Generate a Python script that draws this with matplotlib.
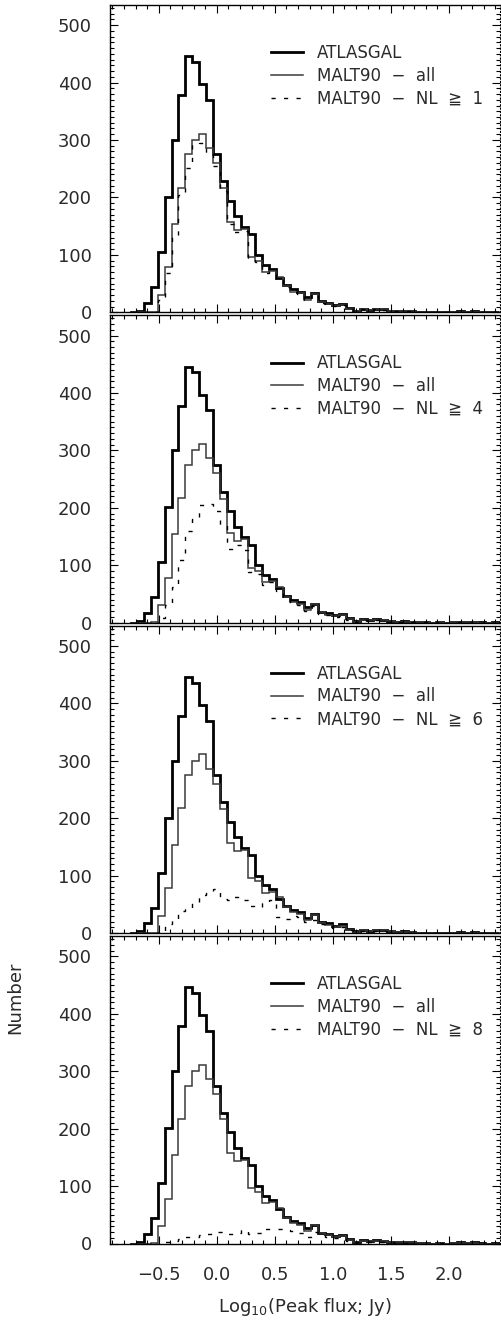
import numpy as np
import matplotlib
matplotlib.use("Agg")
import matplotlib.pyplot as plt
from matplotlib.ticker import MultipleLocator

plt.rcParams['font.family'] = ['DejaVu Sans', 'Noto Sans CJK JP']

# ---- data: histogram of Log10(peak flux) with bin width 0.06 starting at -0.75
BIN_START = -0.75
BIN_WIDTH = 0.06

atlasgal = [0, 3, 17, 44, 105, 201, 300, 378, 446, 436, 397, 370, 275, 228, 194, 167,
            149, 136, 100, 83, 76, 60, 47, 40, 36, 27, 33, 19, 17, 13, 15, 8, 3, 6, 4, 6,
            5, 3, 2, 3, 2, 1, 1, 0, 1, 0, 1, 2, 1, 2, 1, 0, 1]
malt90_all = [0, 0, 0, 1, 30, 78, 154, 217, 275, 300, 311, 286, 260, 216, 157, 143,
              145, 96, 90, 70, 72, 62, 45, 36, 33, 22, 32, 18, 14, 11, 13, 6, 2, 5, 4, 5,
              5, 3, 2, 2, 2, 1, 1, 0, 1, 0, 1, 1, 1, 1, 0, 0, 0]
malt90_nl1 = [0, 0, 0, 1, 22, 68, 135, 205, 252, 292, 295, 275, 255, 212, 154, 140,
              142, 94, 88, 68, 70, 60, 44, 35, 32, 21, 31, 17, 14, 11, 12, 6, 2, 5, 4, 5,
              4, 3, 2, 2, 2, 1, 1, 0, 1, 0, 1, 1, 1, 1, 0, 0, 0]
malt90_nl4 = [0, 0, 0, 0, 8, 30, 62, 110, 160, 180, 205, 206, 195, 170, 128, 135,
              127, 88, 85, 66, 70, 56, 42, 33, 30, 20, 29, 16, 13, 10, 11, 5, 2, 4, 3, 4,
              4, 2, 2, 2, 1, 1, 1, 0, 1, 0, 1, 1, 0, 1, 0, 0, 0]
malt90_nl6 = [0, 0, 0, 0, 3, 15, 25, 38, 42, 55, 67, 70, 76, 60, 58, 63,
              57, 48, 45, 52, 58, 28, 25, 30, 28, 20, 22, 15, 12, 9, 10, 5, 2, 4, 3, 3,
              3, 2, 1, 1, 1, 1, 0, 0, 1, 0, 0, 1, 0, 0, 0, 0, 0]
malt90_nl8 = [0, 0, 0, 0, 0, 2, 5, 8, 12, 12, 14, 17, 20, 20, 16, 18,
              23, 17, 18, 26, 26, 26, 24, 22, 18, 12, 20, 14, 12, 9, 10, 5, 2, 3, 2, 3,
              2, 2, 1, 1, 1, 0, 0, 0, 1, 0, 0, 0, 0, 0, 0, 0, 0]

nl_series = [malt90_nl1, malt90_nl4, malt90_nl6, malt90_nl8]
nl_thresholds = ["1", "4", "6", "8"]

y_ticks = [0, 100, 200, 300, 400, 500]
x_ticks = [-0.5, 0.0, 0.5, 1.0, 1.5, 2.0]
x_ticklabels = ["\u22120.5", "0.0", "0.5", "1.0", "1.5", "2.0"]

edges = BIN_START + BIN_WIDTH * np.arange(len(atlasgal) + 1)

# ---- figure
W, H = 501, 1327
fig = plt.figure(figsize=(W / 100, H / 100), dpi=100)

left_px, right_px = 110, 500
panel_h = 307.3
step = 310.4
top0 = 5

axes = []
for i in range(4):
    top = top0 + i * step
    ax = fig.add_axes([left_px / W, 1 - (top + panel_h) / H,
                       (right_px - left_px) / W, panel_h / H])
    axes.append(ax)

for i, ax in enumerate(axes):
    ax.stairs(atlasgal, edges, color='black', lw=2.0, label='ATLASGAL')
    ax.stairs(malt90_all, edges, color='#3a3a3a', lw=1.1, label='MALT90  \u2212  all')
    ax.stairs(nl_series[i], edges, color='black', lw=1.0, linestyle=(0, (3, 6)),
              label='MALT90  \u2212  NL  \u2267  ' + nl_thresholds[i])

    ax.set_xlim(-0.92, 2.44)
    ax.set_ylim(0, 535)
    ax.set_yticks(y_ticks)
    ax.yaxis.set_minor_locator(MultipleLocator(10))
    ax.set_xticks(x_ticks)
    ax.xaxis.set_minor_locator(MultipleLocator(0.1))
    ax.tick_params(which='both', direction='in', top=True, right=True, width=0.8,
                   labelsize=13, colors='black')
    ax.tick_params(which='major', length=6)
    ax.tick_params(which='minor', length=3)
    ax.tick_params(axis='y', pad=13, labelcolor='#2a2a2a')
    ax.tick_params(axis='x', pad=16, labelcolor='#2a2a2a')
    for s in ax.spines.values():
        s.set_linewidth(1.0)
    ax.spines['right'].set_linestyle((0, (1, 2)))
    ax.spines['right'].set_linewidth(0.8)
    if i < 3:
        ax.set_xticklabels([])
    else:
        ax.set_xticklabels(x_ticklabels)
        ax.set_xlabel(r'Log$_{10}$(Peak flux; Jy)', fontsize=13, labelpad=9,
                      color='#2a2a2a')

    leg = ax.legend(loc='upper left', bbox_to_anchor=(0.413, 0.873), frameon=False,
                    fontsize=12, handlelength=1.9, handletextpad=0.85,
                    labelspacing=0.28, borderpad=0, borderaxespad=0)
    for t in leg.get_texts():
        t.set_color('#2a2a2a')

fig.text(15 / W, 1 - 998 / H, 'Number', rotation=90, ha='center', va='center',
         fontsize=13, color='#2a2a2a')

fig.savefig('out.png', dpi=100)
